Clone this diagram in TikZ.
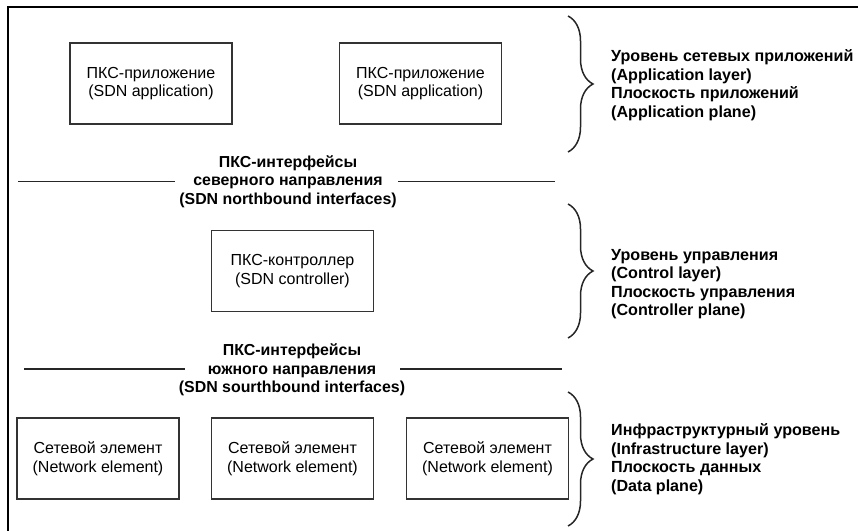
\documentclass[tikz,border=0pt]{standalone}
\usepackage{fontspec}
\setmainfont{Liberation Sans}
\usetikzlibrary{decorations.pathreplacing}
\begin{document}
\begin{tikzpicture}[x=1pt,y=-1pt,
  every node/.style={font=\fontsize{16}{18.5}\selectfont, inner sep=0pt},
  unitbox/.style={draw=black!80, line width=1.6pt, minimum width=162pt, minimum height=81pt, align=center},
  heading/.style={font=\bfseries\fontsize{15.9}{18.6}\selectfont, align=center},
  layertext/.style={font=\bfseries\fontsize{16.1}{18.5}\selectfont, align=left, anchor=west},
  divider/.style={line width=1.5pt, draw=black!85},
  layerbrace/.style={draw=black!85, line width=1.5pt, decorate, decoration={brace, amplitude=25pt}},
  frame/.style={line width=2.8pt, draw=black}
]
\useasboundingbox (0,0) rectangle (858,530);

% outer frame (top and left edges)
\coordinate (fr1) at (858,7);
\coordinate (fr2) at (8,7);
\coordinate (fr3) at (8,531);
\draw[frame] (fr1) -- (fr2) -- (fr3);

% application layer
\node[unitbox] (app1) at (151,83.5) {ПКС-приложение\\(SDN application)};
\node[unitbox] (app2) at (420.5,83.5) {ПКС-приложение\\(SDN application)};

% northbound interfaces
\node[heading] (north) at (288,181.5) {ПКС-интерфейсы\\северного направления\\(SDN northbound interfaces)};
\coordinate (nl1) at (18,181.5);
\coordinate (nl2) at (175,181.5);
\coordinate (nr1) at (398,181.5);
\coordinate (nr2) at (555,181.5);
\draw[divider] (nl1) -- (nl2);
\draw[divider] (nr1) -- (nr2);

% control layer
\node[unitbox] (ctrl) at (292.5,271) {ПКС-контроллер\\(SDN controller)};

% southbound interfaces
\node[heading] (south) at (292,370) {ПКС-интерфейсы\\южного направления\\(SDN sourthbound interfaces)};
\coordinate (sl1) at (24,369);
\coordinate (sl2) at (185,369);
\coordinate (sr1) at (400,369);
\coordinate (sr2) at (562,369);
\draw[divider] (sl1) -- (sl2);
\draw[divider] (sr1) -- (sr2);

% infrastructure layer
\node[unitbox] (ne1) at (98,458.5) {Сетевой элемент\\(Network element)};
\node[unitbox] (ne2) at (292.5,458.5) {Сетевой элемент\\(Network element)};
\node[unitbox] (ne3) at (487.5,458.5) {Сетевой элемент\\(Network element)};

% layer braces
\coordinate (b1t) at (568,16);
\coordinate (b1b) at (568,152);
\coordinate (b2t) at (568,204);
\coordinate (b2b) at (568,338);
\coordinate (b3t) at (568,392);
\coordinate (b3b) at (568,526);
\draw[layerbrace] (b1t) -- (b1b);
\draw[layerbrace] (b2t) -- (b2b);
\draw[layerbrace] (b3t) -- (b3b);

% layer descriptions
\node[layertext] (l1) at (611,85) {Уровень сетевых приложений\\(Application layer)\\Плоскость приложений\\(Application plane)};
\node[layertext] (l2) at (611,284) {Уровень управления\\(Control layer)\\Плоскость управления\\(Controller plane)};
\node[layertext] (l3) at (611,459) {Инфраструктурный уровень\\(Infrastructure layer)\\Плоскость данных\\(Data plane)};
\end{tikzpicture}
\end{document}
